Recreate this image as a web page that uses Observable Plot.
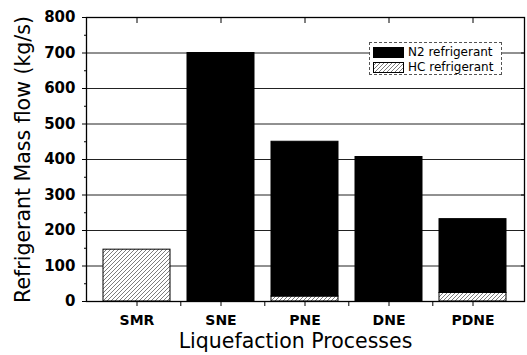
<!DOCTYPE html>
<html><head><meta charset="utf-8">
<script src="https://cdn.jsdelivr.net/npm/d3@7"></script>
<script src="https://cdn.jsdelivr.net/npm/@observablehq/plot@0.6"></script>
<style>
body{margin:0;background:#fff;}
#wrap{position:relative;width:527px;height:355px;}
#legend{position:absolute;left:369px;top:42px;width:133px;height:33px;border:1px dashed #555;box-sizing:border-box;font-family:"DejaVu Sans";font-size:12px;color:#000;background:#fff;}
#legend .sw{position:absolute;left:3px;}
#legend .lab{position:absolute;left:38px;line-height:14px;white-space:nowrap;}
</style></head>
<body><div id="wrap"></div>
<script>
const processes = ["SMR", "SNE", "PNE", "DNE", "PDNE"];
const n2Flow = [0, 700, 436, 407, 208];
const hcFlow = [146, 0, 14, 0, 24];
const seriesNames = ["HC refrigerant", "N2 refrigerant"];
const yTicks = [0, 100, 200, 300, 400, 500, 600, 700, 800];
const yMinorTicks = [50, 150, 250, 350, 450, 550, 650, 750];
const yLabel = "Refrigerant Mass flow (kg/s)";
const xLabel = "Liquefaction Processes";

const rows = [];
processes.forEach((p, i) => { if (hcFlow[i] > 0) rows.push({process: p, series: seriesNames[0], value: hcFlow[i]}); });
processes.forEach((p, i) => { if (n2Flow[i] > 0) rows.push({process: p, series: seriesNames[1], value: n2Flow[i]}); });

const W = 527, H = 355, mL = 86, mR = 3, mT = 17, mB = 54;
const bw = (W - mL - mR) / processes.length;

const svg = Plot.plot({
  width: W, height: H, marginLeft: mL, marginRight: mR, marginTop: mT, marginBottom: mB,
  style: {fontFamily: "DejaVu Sans", background: "white", color: "black"},
  x: {domain: processes, padding: 0.2, label: null},
  y: {domain: [0, 800], label: null},
  color: {domain: seriesNames, range: ["url(#hatch)", "black"]},
  marks: [
    Plot.gridY(yTicks.slice(1, -1), {stroke: "#222", strokeOpacity: 1, strokeWidth: 1}),
    Plot.barY(rows, Plot.stackY({x: "process", y: "value", fill: "series", stroke: "black", strokeWidth: 1})),
    Plot.frame({stroke: "black", strokeWidth: 1.3}),
    Plot.axisY(yTicks, {tickSize: 4, tickPadding: 7, fontSize: 15, fontWeight: "bold", label: null}),
    Plot.axisY(yMinorTicks, {tickSize: 2, text: null, label: null}),
    Plot.axisY(yTicks, {anchor: "right", tickSize: -4, text: null, label: null}),
    Plot.axisX({tickSize: 5, tickPadding: 9, fontSize: 14, fontWeight: "bold", label: null}),
    Plot.axisX(processes.slice(0, -1), {tickSize: 5, text: null, dx: bw / 2, label: null}),
    Plot.axisX({anchor: "top", tickSize: -5, text: null, label: null}),
    Plot.text([yLabel], {text: d => d, frameAnchor: "left", rotate: -90, textAnchor: "middle", lineAnchor: "middle", dx: -63, fontSize: 20.5}),
    Plot.text([xLabel], {text: d => d, frameAnchor: "bottom", textAnchor: "middle", lineAnchor: "middle", dy: 40, dx: -10, fontSize: 20.5})
  ]
});

const defs = d3.select(svg).insert("defs", ":first-child");
const pat = defs.append("pattern").attr("id", "hatch").attr("patternUnits", "userSpaceOnUse")
  .attr("width", 4).attr("height", 4);
pat.append("rect").attr("width", 4).attr("height", 4).attr("fill", "white");
pat.append("path").attr("d", "M-1,1 l2,-2 M0,4 l4,-4 M3,5 l2,-2").attr("stroke", "#444").attr("stroke-width", 0.7);

const wrap = document.getElementById("wrap");
wrap.appendChild(svg);

const legend = document.createElement("div");
legend.id = "legend";
const legendItems = [{name: "N2 refrigerant", fill: "black"}, {name: "HC refrigerant", fill: "url(#hatch)"}];
legendItems.forEach((it, i) => {
  const top = 4 + i * 15;
  const sw = document.createElementNS("http://www.w3.org/2000/svg", "svg");
  sw.setAttribute("class", "sw");
  sw.setAttribute("width", 31); sw.setAttribute("height", 11);
  sw.style.top = top + "px";
  const r = document.createElementNS("http://www.w3.org/2000/svg", "rect");
  r.setAttribute("x", 0.5); r.setAttribute("y", 0.5); r.setAttribute("width", 30); r.setAttribute("height", 10);
  r.setAttribute("fill", it.fill); r.setAttribute("stroke", "black");
  sw.appendChild(r);
  legend.appendChild(sw);
  const lab = document.createElement("div");
  lab.className = "lab";
  lab.style.top = (top - 2) + "px";
  lab.textContent = it.name;
  legend.appendChild(lab);
});
wrap.appendChild(legend);
</script>
</body></html>
